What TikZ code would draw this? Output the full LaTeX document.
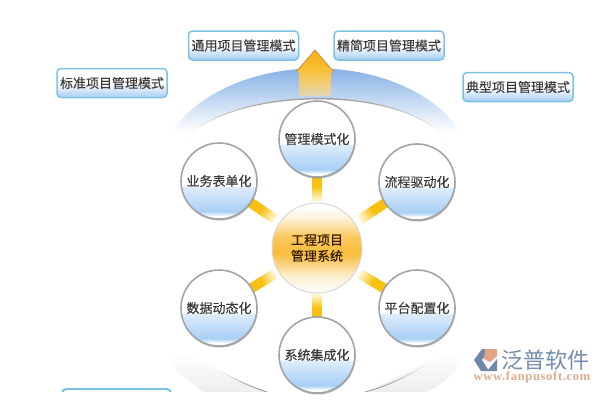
\documentclass[tikz,border=0pt]{standalone}
\usepackage{fontspec}
\setmainfont[FakeBold=0.25]{Noto Sans CJK SC}
\newfontfamily\logofont{Noto Sans CJK SC}
\newfontfamily\logolatin[LetterSpace=5.5]{Liberation Serif}
\usetikzlibrary{calc,shadows}
\definecolor{txtc}{HTML}{3A3A3A}
\definecolor{ringc}{HTML}{A2A5A8}
\definecolor{boxline}{HTML}{7CC3E2}
\definecolor{spokeo}{HTML}{F8C111}
\definecolor{spokep}{HTML}{FFF8D8}
\definecolor{ballA}{RGB}{168,207,245}
\definecolor{ballB}{RGB}{222,236,252}
\definecolor{hubA}{RGB}{253,240,210}
\definecolor{hubB}{RGB}{248,188,60}
\definecolor{hubC}{RGB}{250,200,90}
\definecolor{hubD}{RGB}{254,244,222}
\definecolor{boxA}{RGB}{165,205,242}
\definecolor{bandA}{RGB}{112,163,225}
\definecolor{arrA}{RGB}{222,214,184}
\definecolor{arrM}{RGB}{240,205,120}
\definecolor{arrB}{RGB}{249,190,50}
\definecolor{arrC}{RGB}{246,178,20}
\definecolor{logoA}{RGB}{110,135,170}
\definecolor{logoB}{RGB}{225,165,130}
\definecolor{logoC}{RGB}{115,140,175}
\definecolor{logoD}{RGB}{222,170,140}
\pgfdeclareverticalshading{ballblue}{100bp}{
  color(0bp)=(white); color(25bp)=(white); color(27bp)=(white);
  color(30bp)=(ballA);
  color(46bp)=(ballB);
  color(47bp)=(white); color(100bp)=(white)}
\pgfdeclareverticalshading{ballorange}{100bp}{
  color(0bp)=(white); color(25bp)=(white);
  color(34bp)=(hubA);
  color(47bp)=(hubB);
  color(56bp)=(hubC);
  color(67bp)=(hubD);
  color(73bp)=(white); color(100bp)=(white)}
\pgfdeclareverticalshading{boxblue}{100bp}{
  color(0bp)=(boxA); color(25bp)=(boxA);
  color(50bp)=(white); color(100bp)=(white)}
\pgfdeclareverticalshading{bandblue}{100bp}{
  color(0bp)=(white); color(31bp)=(white);
  color(70bp)=(bandA); color(100bp)=(bandA)}
\pgfdeclareverticalshading{arrowgold}{100bp}{
  color(0bp)=(arrA); color(25bp)=(arrA);
  color(38bp)=(arrM);
  color(55bp)=(arrB);
  color(75bp)=(arrC); color(100bp)=(arrC)}
\tikzset{
  x=1pt,y=-1pt,
  lbl/.style={font=\fontsize{13}{16}\selectfont,text=txtc,align=center,inner sep=0pt},
  ball/.style={circle,minimum size=76pt,draw=ringc,line width=1.6pt,shading=ballblue,
    lbl,drop shadow={shadow xshift=0.5pt,shadow yshift=-1.5pt,fill=black!55,opacity=.55}},
  hub/.style={circle,minimum size=90pt,draw=black!15,line width=1pt,shading=ballorange,lbl,text=black!80!orange},
  modebox/.style={rounded corners=4pt,draw=boxline,line width=1.5pt,shading=boxblue,lbl,
    minimum width=110pt,minimum height=29pt},
  spokebase/.style={line width=10pt,spokeo}
}
\newcommand{\spoke}[2]{%
  \draw[spokebase] ($(#1)!.55!(#2)$) -- ($(#1)!.8!(#2)$);
  \foreach \t/\p in {.53/15,.51/30,.49/45,.47/60,.45/75,.43/90}{
    \draw[line width=10pt,spokep!\p!spokeo] ($(#1)!\t!(#2)$) -- ($(#1)!\t+.025!(#2)$);
  }%
}
\begin{document}
\begin{tikzpicture}
\useasboundingbox (0,0) rectangle (600,400);
\fill[white] (0,0) rectangle (600,400);
% upper band
\shade[shading=bandblue] (170,134) .. controls (228,47) and (402,47) .. (460,131)
  .. controls (452,142) and (448,143) .. (445,138)
  .. controls (400,84) and (235,84) .. (182,141)
  .. controls (176,143) and (172,140) .. (170,134) -- cycle;
\shade[top color=black!50,bottom color=white,middle color=black!25]
  (182,141) .. controls (235,84) and (400,84) .. (445,138)
  .. controls (400,86) and (235,86) .. (182,141) -- cycle;
% lower band
\begin{scope}
\clip (0,0) rectangle (600,391);
\shade[top color=white,bottom color=black!7] (170,353) .. controls (195,355) and (230,378) .. (270,393)
  -- (205,393) .. controls (195,385) and (178,375) .. (172,362) -- cycle;
\shade[top color=white,bottom color=black!7] (462,352) .. controls (430,355) and (400,378) .. (362,393)
  -- (425,393) .. controls (440,385) and (455,375) .. (460,362) -- cycle;
\shade[top color=white,bottom color=black!50] (214,367) .. controls (232,378) and (250,386) .. (268,392)
  -- (266,392) .. controls (250,387) and (232,379) .. (214,367) -- cycle;
\shade[top color=white,bottom color=black!50] (433,360) .. controls (415,372) and (390,385) .. (364,392)
  -- (366,392) .. controls (390,386) and (415,373) .. (433,360) -- cycle;
\fill[boxline,rounded corners=5pt] (61,388) rectangle (172,405);
\fill[white,rounded corners=4pt] (63,390) rectangle (170,405);
\end{scope}
% rising arrow
\shade[shading=arrowgold,draw=none] (315,50) -- (334,72) -- (331,72) -- (331,96)
  -- (299,96) -- (299,72) -- (296,72) -- cycle;
\draw[black!35!orange!70!white,line width=.7pt] (296,72) -- (315,50) -- (334,72);
% nodes
\coordinate (chub) at (317,248);
\coordinate (cA) at (317,139);
\coordinate (cB) at (219,181);
\coordinate (cC) at (417,182);
\coordinate (cD) at (219,308);
\coordinate (cE) at (417,308);
\coordinate (cF) at (317,355);
\spoke{chub}{cA}\spoke{chub}{cB}\spoke{chub}{cC}\spoke{chub}{cD}\spoke{chub}{cE}\spoke{chub}{cF}
\node[ball] (A) at (cA) {管理模式化};
\node[ball] (B) at (cB) {业务表单化};
\node[ball] (C) at (cC) {流程驱动化};
\node[ball] (D) at (cD) {数据动态化};
\node[ball] (E) at (cE) {平台配置化};
\node[ball] (F) at (cF) {系统集成化};
\node[hub] (hubn) at (chub) {工程项目\\管理系统};
\node[modebox] (m1) at (243.5,45.5) {通用项目管理模式};
\node[modebox] (m2) at (389,45.5) {精简项目管理模式};
\node[modebox] (m3) at (112,83) {标准项目管理模式};
\node[modebox] (m4) at (518,87) {典型项目管理模式};
% logo
\fill[logoA] (474,360) -- (482,349) -- (490,349) -- (482,360) -- (489,371) -- (481,371) -- cycle;
\fill[logoB] (485,349) -- (497,349) -- (497,356) -- (490,362) -- (484,359) -- cycle;
\fill[logoA] (487,371) -- (497,359) -- (497,371) -- cycle;
\node[inner sep=0pt,font=\logofont\fontsize{22}{24}\selectfont,text=logoC] (logo) at (545,360) {泛普软件};
\node[inner sep=0pt,font=\logolatin\bfseries\fontsize{12.5}{14}\selectfont,text=logoD] (url) at (532,377) {www.fanpusoft.com};
\end{tikzpicture}
\end{document}
